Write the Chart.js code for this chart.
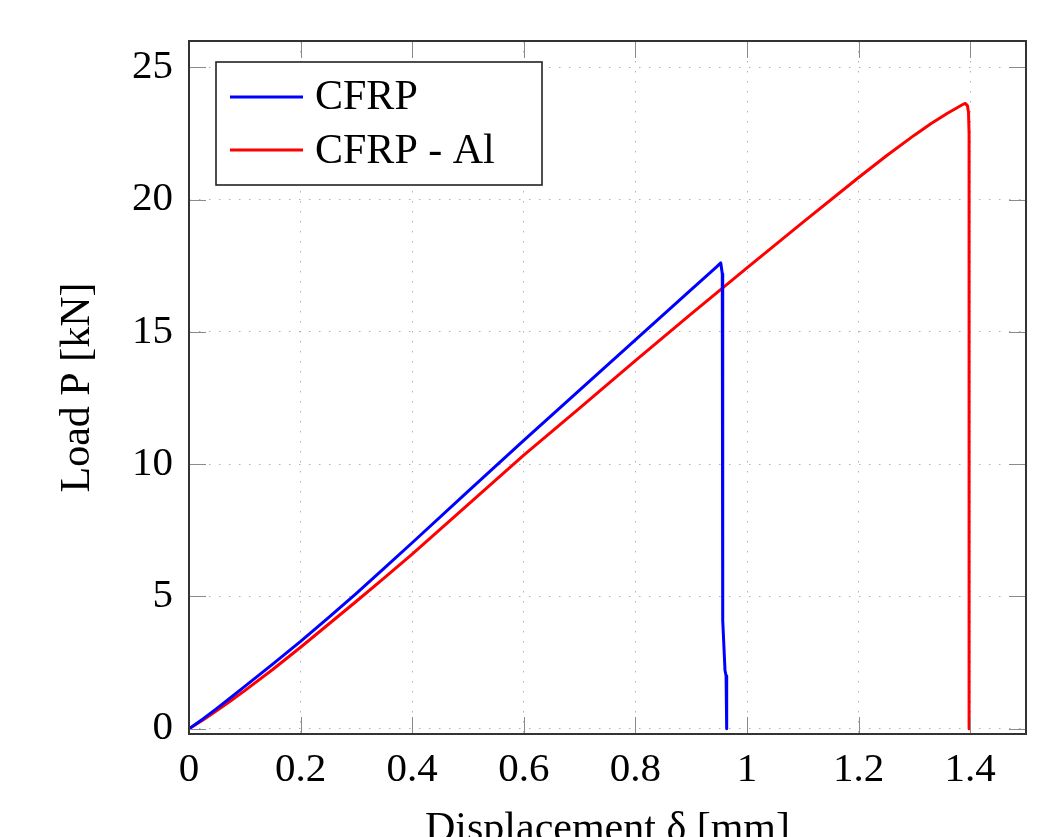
<!DOCTYPE html>
<html>
<head>
<meta charset="utf-8">
<script src="https://cdn.jsdelivr.net/npm/chart.js@4.4.1/dist/chart.umd.min.js"></script>
<style>
    body { margin: 0; background: #ffffff; }
    #wrap { width: 1042px; height: 837px; }
</style>
</head>
<body>
<div id="wrap"><canvas id="grafCarga" width="1042" height="837"></canvas></div>
<script>
// datos
const cfrpX = [0, 0.025, 0.05, 0.075, 0.1, 0.15, 0.2, 0.25, 0.3, 0.35, 0.4, 0.5, 0.6, 0.7, 0.8, 0.9, 0.945, 0.953, 0.9557, 0.9565, 0.9606, 0.9625, 0.9636];
const cfrpP = [0, 0.37, 0.77, 1.18, 1.6, 2.44, 3.3, 4.2, 5.12, 6.07, 7.03, 8.97, 10.9, 12.8, 14.7, 16.6, 17.45, 17.61, 17.2, 4.1, 2.2, 2.0, 0];

const cfrpAlX = [0, 0.025, 0.05, 0.075, 0.1, 0.15, 0.2, 0.25, 0.3, 0.35, 0.4, 0.5, 0.6, 0.7, 0.8, 0.9, 1.0, 1.1, 1.2, 1.25, 1.3, 1.33, 1.36, 1.375, 1.385, 1.391, 1.395, 1.397, 1.398, 1.398];
const cfrpAlP = [0, 0.33, 0.69, 1.06, 1.44, 2.24, 3.08, 3.95, 4.82, 5.7, 6.6, 8.47, 10.34, 12.12, 13.92, 15.68, 17.42, 19.14, 20.84, 21.66, 22.44, 22.88, 23.28, 23.46, 23.58, 23.64, 23.56, 23.3, 22.5, 0];

const xTicks = [0, 0.2, 0.4, 0.6, 0.8, 1, 1.2, 1.4];
const yTicks = [0, 5, 10, 15, 20, 25];

const fuente = "'Liberation Serif', 'DejaVu Serif', serif";

function puntos(xs, ys) {
    return xs.map((x, i) => ({ x: x, y: ys[i] }));
}

// marco y marcas hacia dentro, como en pgfplots
const marcoPlugin = {
    id: 'marco',
    afterDatasetsDraw(chart) {
        const { ctx, chartArea: a, scales } = chart;
        ctx.save();
        ctx.strokeStyle = '#8a8a8a';
        ctx.lineWidth = 1;
        ctx.beginPath();
        xTicks.forEach(v => {
            const px = Math.round(scales.x.getPixelForValue(v)) + 0.5;
            ctx.moveTo(px, a.bottom); ctx.lineTo(px, a.bottom - 17);
            ctx.moveTo(px, a.top); ctx.lineTo(px, a.top + 17);
        });
        yTicks.forEach(v => {
            const py = Math.round(scales.y.getPixelForValue(v)) + 0.5;
            ctx.moveTo(a.left, py); ctx.lineTo(a.left + 17, py);
            ctx.moveTo(a.right, py); ctx.lineTo(a.right - 17, py);
        });
        ctx.stroke();
        ctx.strokeStyle = '#333333';
        ctx.lineWidth = 2;
        ctx.strokeRect(a.left, a.top, a.right - a.left, a.bottom - a.top);

        // leyenda
        ctx.fillStyle = '#ffffff';
        ctx.fillRect(216, 62, 326, 123);
        ctx.strokeStyle = '#222222';
        ctx.lineWidth = 1.6;
        ctx.strokeRect(216, 62, 326, 123);
        const filas = [97, 150];
        const bases = [109, 162.5];
        chart.data.datasets.forEach((ds, i) => {
            ctx.strokeStyle = ds.borderColor;
            ctx.lineWidth = 3;
            ctx.beginPath();
            ctx.moveTo(230, filas[i]);
            ctx.lineTo(303, filas[i]);
            ctx.stroke();
            ctx.fillStyle = '#000000';
            ctx.font = "42px " + fuente;
            ctx.textBaseline = 'alphabetic';
            ctx.textAlign = 'left';
            ctx.fillText(ds.label, 315, bases[i]);
        });
        ctx.restore();
    }
};

const lienzo = document.getElementById("grafCarga");

new Chart(lienzo, {
    type: "line",
    data: {
        datasets: [
            {
                label: "CFRP",
                data: puntos(cfrpX, cfrpP),
                borderColor: "#0000ff",
                borderWidth: 3,
                pointRadius: 0,
                tension: 0,
                borderJoinStyle: 'round',
                fill: false
            },
            {
                label: "CFRP - Al",
                data: puntos(cfrpAlX, cfrpAlP),
                borderColor: "#ff0000",
                borderWidth: 3,
                pointRadius: 0,
                tension: 0,
                borderJoinStyle: 'round',
                fill: false
            }
        ]
    },
    options: {
        responsive: false,
        animation: false,
        layout: { padding: { top: 41, right: 16, left: 0, bottom: 0 } },
        plugins: {
            legend: { display: false },
            tooltip: { enabled: false }
        },
        scales: {
            x: {
                type: "linear",
                min: 0,
                max: 1.5,
                afterBuildTicks: s => { s.ticks = xTicks.map(v => ({ value: v })); },
                afterFit: s => { s.height = 103; },
                grid: { color: '#b0b0b0', lineWidth: 1, drawTicks: false },
                border: { display: false, dash: [1.5, 8.5] },
                ticks: {
                    color: '#000000',
                    padding: 12,
                    maxRotation: 0,
                    font: { family: fuente, size: 41 },
                    callback: v => String(v)
                },
                title: {
                    display: true,
                    text: "Displacement δ [mm]",
                    color: '#000000',
                    font: { family: fuente, size: 42, lineHeight: 1 },
                    padding: { top: 0, bottom: -14 }
                }
            },
            y: {
                type: "linear",
                min: -0.2,
                max: 26,
                afterBuildTicks: s => { s.ticks = yTicks.map(v => ({ value: v })); },
                afterFit: s => { s.width = 189; },
                grid: { color: '#b0b0b0', lineWidth: 1, drawTicks: false },
                border: { display: false, dash: [1.5, 8.5] },
                ticks: {
                    color: '#000000',
                    padding: 16,
                    font: { family: fuente, size: 41 },
                    callback: v => String(v)
                },
                title: {
                    display: true,
                    text: "Load P [kN]",
                    color: '#000000',
                    font: { family: fuente, size: 42, lineHeight: 1 },
                    padding: { top: 57, bottom: 0 }
                }
            }
        }
    },
    plugins: [marcoPlugin]
});
</script>
</body>
</html>
